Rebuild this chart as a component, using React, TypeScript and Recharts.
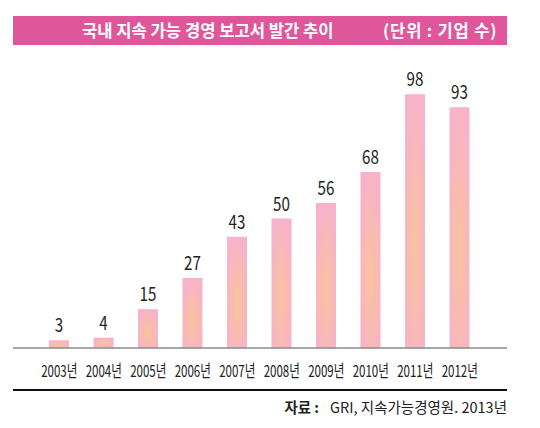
import React from 'react';
import { BarChart, Bar, XAxis, YAxis, LabelList } from 'recharts';

const years = ['2003년', '2004년', '2005년', '2006년', '2007년', '2008년', '2009년', '2010년', '2011년', '2012년'];
const counts = [3, 4, 15, 27, 43, 50, 56, 68, 98, 93];
const title = '국내 지속 가능 경영 보고서 발간 추이';
const unit = '(단위 : 기업 수)';
const sourceLabel = '자료 :';
const sourceText = 'GRI, 지속가능경영원. 2013년';

const data = years.map((y, i) => ({ year: y, value: counts[i] }));

const kr = '"Noto Sans CJK KR", "Noto Sans", sans-serif';

const NarrowTick = (props: any) => {
  const { x, y, payload } = props;
  return (
    <g transform={`translate(${x},${y}) scale(0.7,1)`}>
      <text x={0} y={0} dy={21} textAnchor="middle" fill="#222" fontSize={16.5} fontFamily={kr}>
        {payload.value}
      </text>
    </g>
  );
};

const NarrowLabel = (props: any) => {
  const { x, y, width, value } = props;
  const cx = x + width / 2;
  return (
    <g transform={`translate(${cx},${y - 8}) scale(0.8,1)`}>
      <text x={0} y={0} textAnchor="middle" fill="#222" fontSize={19} fontFamily={kr}>
        {value}
      </text>
    </g>
  );
};

export default function App() {
  return (
    <div style={{ position: 'absolute', left: 0, top: 0, width: 540, height: 428, background: '#fff', fontFamily: kr }}>
      <div
        style={{
          position: 'absolute', left: 13, top: 16, width: 494, height: 29,
          background: '#e0569b', color: '#fff', fontWeight: 700, fontSize: 16.6,
        }}
      >
        <span style={{ position: 'absolute', left: 82 - 13, top: 2, whiteSpace: 'nowrap' }}>{title}</span>
        <span style={{ position: 'absolute', left: 383 - 13, top: 2, whiteSpace: 'nowrap', letterSpacing: 0.8 }}>{unit}</span>
      </div>
      <div style={{ position: 'absolute', left: 0, top: 0 }}>
        <BarChart width={540} height={428} data={data} margin={{ top: 89, right: 33, left: 13, bottom: 50 }}>
          <defs>
            <radialGradient id="barGrad" cx="50%" cy="60%" r="60%" fx="50%" fy="60%">
              <stop offset="0%" stopColor="#fac39c" />
              <stop offset="100%" stopColor="#f7b3c9" />
            </radialGradient>
          </defs>
          <YAxis hide domain={[0, 100]} />
          <XAxis
            dataKey="year"
            padding={{ left: 24, right: 25 }}
            axisLine={{ stroke: '#8a8a8a', strokeWidth: 1.5 }}
            tickLine={false}
            interval={0}
            tick={<NarrowTick />}
            height={30}
          />
          <Bar dataKey="value" fill="url(#barGrad)" barSize={20} isAnimationActive={false}>
            <LabelList dataKey="value" content={<NarrowLabel />} />
          </Bar>
        </BarChart>
      </div>
      <div style={{ position: 'absolute', left: 13, top: 389, width: 494, height: 2, background: '#111' }} />
      <div style={{ position: 'absolute', right: 33, top: 396, fontSize: 14.5, color: '#222', whiteSpace: 'nowrap' }}>
        <span style={{ fontWeight: 700, marginRight: 11 }}>{sourceLabel}</span>
        <span>{sourceText}</span>
      </div>
    </div>
  );
}
